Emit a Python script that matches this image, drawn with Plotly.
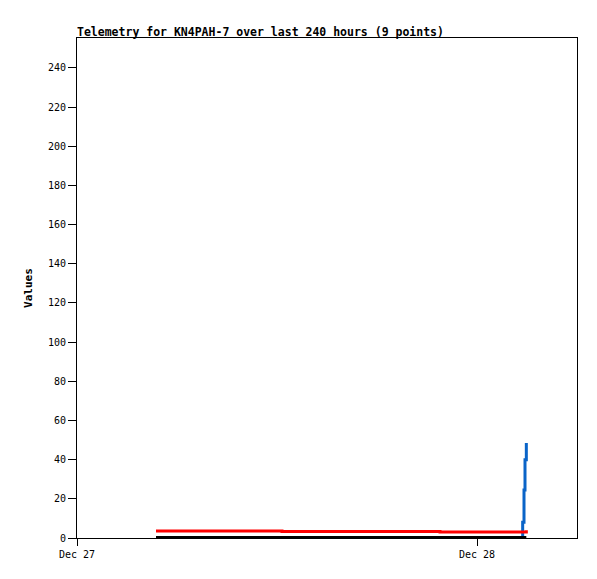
import plotly.graph_objects as go
from datetime import datetime, timedelta

base = datetime(2023, 12, 27, 0, 0)
hours = [4.74, 12.3, 21.78, 26.70, 26.74, 26.82, 26.88, 26.93, 26.96]
times = [base + timedelta(hours=h) for h in hours]
series_blue = [0, 0, 0, 0, 8, 24.5, 40, 40, 48.5]
series_red = [3.6, 3.3, 3.0, 3.0, 3.0, 3.0, 3.0, 3.0, 4.0]
series_black = [0.4, 0.4, 0.4, 0.4, 0.4, 0.4, 0.4, 0.4, 0.4]
x_tick_vals = [datetime(2023, 12, 27), datetime(2023, 12, 28)]
x_tick_text = ["Dec 27", "Dec 28"]
y_ticks = list(range(0, 241, 20))

mono = "DejaVu Sans Mono"

fig = go.Figure()
fig.add_trace(go.Scatter(x=times, y=series_blue, mode="lines", line=dict(color="#0a64c8", width=3, shape="hv")))
fig.add_trace(go.Scatter(x=times, y=series_red, mode="lines", line=dict(color="#ff0000", width=3, shape="hv")))
fig.add_trace(go.Scatter(x=times, y=series_black, mode="lines", line=dict(color="#000000", width=2.5, shape="hv")))

fig.update_layout(
    width=597, height=579,
    margin=dict(l=69, r=28, t=30, b=49),
    paper_bgcolor="white", plot_bgcolor="white",
    showlegend=False,
    title=dict(text="<b>Telemetry for KN4PAH-7 over last 240 hours (9 points)</b>",
               x=69/597, xanchor="left", xref="container",
               y=1 - 24/579, yanchor="middle", yref="container",
               font=dict(family=mono, size=11.5, color="black")),
    xaxis=dict(range=[datetime(2023, 12, 27), datetime(2023, 12, 28, 6)],
               tickvals=x_tick_vals, ticktext=x_tick_text,
               showgrid=False, zeroline=False, showline=True, linecolor="black", linewidth=1,
               mirror=True, ticks="outside", ticklen=7, tickcolor="black",
               tickfont=dict(family=mono, size=10, color="black")),
    yaxis=dict(range=[0, 255.3], tickvals=y_ticks,
               showgrid=False, zeroline=False, showline=True, linecolor="black", linewidth=1,
               mirror=True, ticks="outside", ticklen=8, tickcolor="black",
               tickfont=dict(family=mono, size=10, color="black"),
               title=dict(text="<b>Values</b>", font=dict(family=mono, size=11, color="black"), standoff=13)),
)

fig.write_html("out.html")
